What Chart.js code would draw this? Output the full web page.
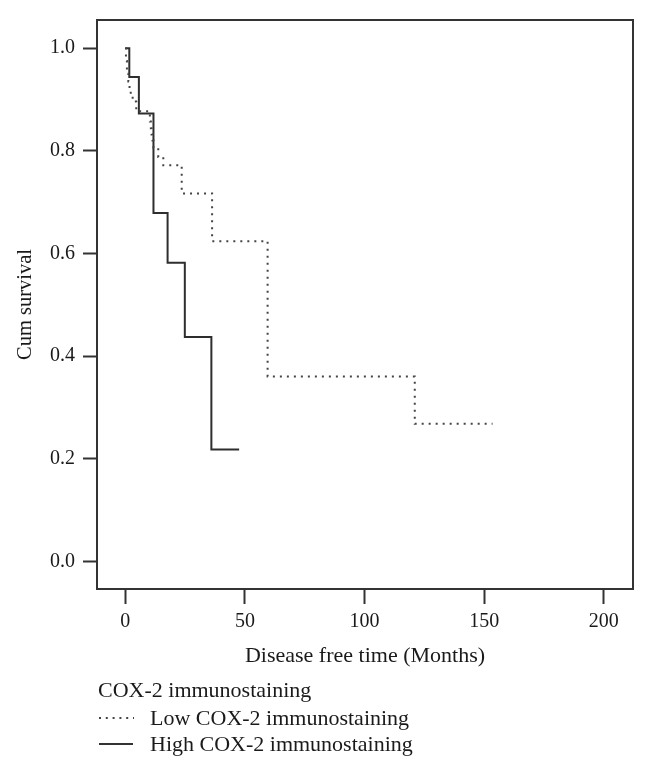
<!DOCTYPE html>
<html>
<head>
<meta charset="utf-8">
<script src="https://cdn.jsdelivr.net/npm/chart.js@4.4.0/dist/chart.umd.min.js"></script>
<style>
  html, body { margin: 0; padding: 0; background: #fff; }
  #wrap { position: relative; width: 648px; height: 769px; font-family: "Liberation Serif", "DejaVu Serif", serif; color: #1a1a1a; }
  #survChart { position: absolute; left: 0; top: 0; }
  .leg { position: absolute; font-size: 22px; line-height: 26px; white-space: nowrap; }
  .leg svg { position: absolute; left: 0; top: 0; }
</style>
</head>
<body>
<div id="wrap">
  <canvas id="survChart" width="648" height="769"></canvas>
  <div class="leg" style="left:98px; top:677px;">COX-2 immunostaining</div>
  <div class="leg" style="left:98px; top:705px; width:340px; height:26px;">
    <svg width="40" height="26"><line x1="1" y1="13" x2="36" y2="13" stroke="#444" stroke-width="2" stroke-dasharray="2,4.8"/></svg>
    <span style="position:absolute; left:52px; top:0;">Low COX-2 immunostaining</span>
  </div>
  <div class="leg" style="left:98px; top:731px; width:340px; height:26px;">
    <svg width="40" height="26"><line x1="1" y1="13" x2="35" y2="13" stroke="#333" stroke-width="2"/></svg>
    <span style="position:absolute; left:52px; top:0;">High COX-2 immunostaining</span>
  </div>
</div>
<script>
// Kaplan-Meier steps (months, cumulative survival)
const lowTime = [0, 0.3, 0.7, 1.3, 1.8, 2.3, 3.1, 4.6, 10.3, 10.7, 11.0, 11.4, 11.8, 13.8, 15.9, 23.6, 36.3, 59.5, 121.0, 153.5];
const lowSurv = [1.0, 0.975, 0.95, 0.935, 0.922, 0.909, 0.896, 0.877, 0.857, 0.844, 0.832, 0.82, 0.806, 0.788, 0.772, 0.717, 0.624, 0.36, 0.268, 0.268];

const highTime = [0, 1.7, 5.7, 11.8, 17.7, 24.9, 36.0, 47.6];
const highSurv = [1.0, 0.944, 0.873, 0.679, 0.582, 0.437, 0.218, 0.218];

const xTicks = [0, 50, 100, 150, 200];
const yTicks = [0.0, 0.2, 0.4, 0.6, 0.8, 1.0];

const toPoints = (t, s) => t.map((v, i) => ({ x: v, y: s[i] }));

// box around the plotting area
const frame = {
    id: 'frame',
    afterDatasetsDraw(chart) {
        const { ctx, chartArea: a } = chart;
        ctx.save();
        ctx.strokeStyle = '#333';
        ctx.lineWidth = 2;
        ctx.strokeRect(a.left, a.top, a.right - a.left, a.bottom - a.top);
        ctx.restore();
    }
};

const family = '"Liberation Serif", "DejaVu Serif", serif';
const tickFont = { family: family, size: 20 };

new Chart(document.getElementById('survChart'), {
    type: 'line',
    data: {
        datasets: [{
            label: 'Low COX-2 immunostaining',
            data: toPoints(lowTime, lowSurv),
            borderColor: '#444',
            borderWidth: 2,
            borderDash: [2, 5],
            stepped: 'before',
            pointRadius: 0,
            fill: false
        }, {
            label: 'High COX-2 immunostaining',
            data: toPoints(highTime, highSurv),
            borderColor: '#2e2e2e',
            borderWidth: 2,
            stepped: 'before',
            pointRadius: 0,
            fill: false
        }]
    },
    options: {
        responsive: false,
        animation: false,
        layout: { padding: { top: 14, right: 15, left: 0, bottom: 100 } },
        plugins: { legend: { display: false }, tooltip: { enabled: false } },
        scales: {
            x: {
                type: 'linear',
                min: -11.8,
                max: 212.2,
                afterBuildTicks: s => { s.ticks = xTicks.map(v => ({ value: v })); },
                afterFit: s => { s.height = 80; },
                grid: { drawOnChartArea: false, tickLength: 15, tickColor: '#333', tickWidth: 2 },
                border: { display: false },
                ticks: { font: tickFont, color: '#1a1a1a', padding: 6, maxRotation: 0 },
                title: { display: true, text: 'Disease free time (Months)', font: { family: family, size: 22 }, color: '#1a1a1a', padding: { top: 0, bottom: 0 } }
            },
            y: {
                min: -0.054,
                max: 1.055,
                afterBuildTicks: s => { s.ticks = yTicks.map(v => ({ value: v })); },
                afterFit: s => { s.width = 97; },
                grid: { drawOnChartArea: false, tickLength: 14, tickColor: '#333', tickWidth: 2 },
                border: { display: false },
                ticks: { font: tickFont, color: '#1a1a1a', padding: 8, callback: v => v.toFixed(1) },
                title: { display: true, text: 'Cum survival', font: { family: family, size: 20.5 }, color: '#1a1a1a', padding: { top: 13, bottom: 0 } }
            }
        }
    },
    plugins: [frame]
});
</script>
</body>
</html>
